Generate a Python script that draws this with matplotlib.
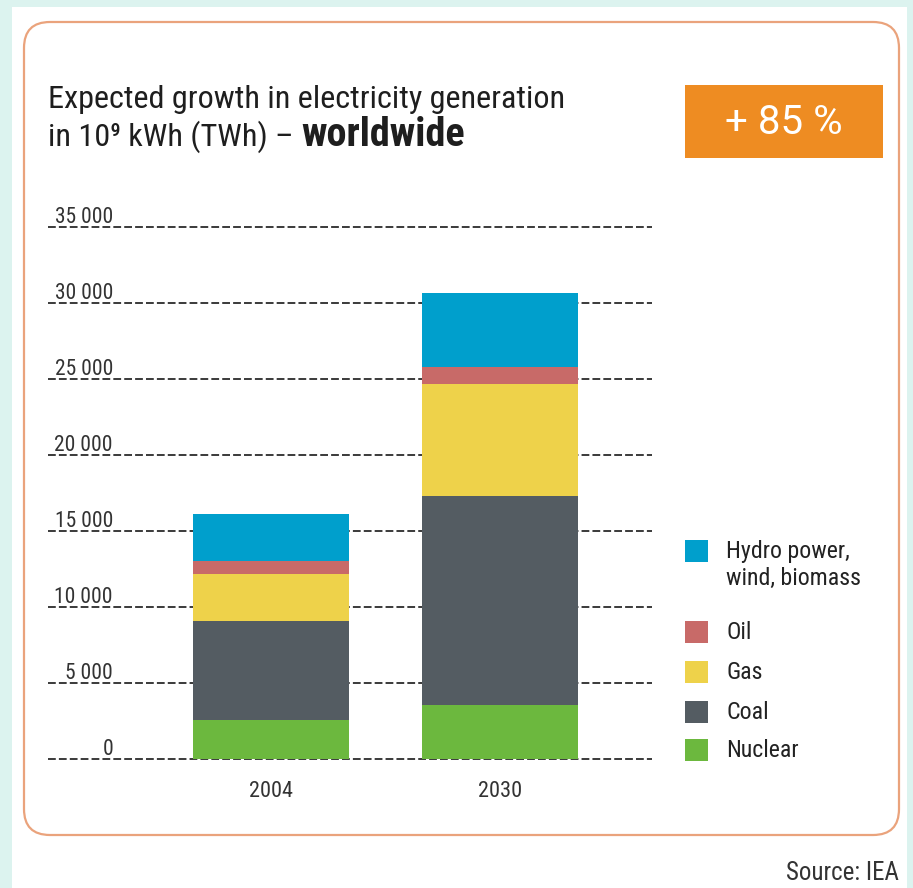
import matplotlib.pyplot as plt
import numpy as np
from matplotlib.patches import FancyBboxPatch, Rectangle
import matplotlib.transforms as mtransforms
from matplotlib import font_manager

# Data (TWh)
years = ['2004', '2030']
nuclear = [2600, 3570]
coal = [6500, 13730]
gas = [3100, 7360]
oil = [850, 1100]
hydro = [3050, 4860]

series = [nuclear, coal, gas, oil, hydro]
names = ['Nuclear', 'Coal', 'Gas', 'Oil', 'Hydro power,\nwind, biomass']
colors = ['#6cb83e', '#545c62', '#eed24a', '#c86a68', '#009fcc']
yticks = [0, 5000, 10000, 15000, 20000, 25000, 30000, 35000]
ytick_labels = ['0', '5 000', '10 000', '15 000', '20 000', '25 000', '30 000', '35 000']

# prefer a condensed face if one is installed
installed = {f.name for f in font_manager.fontManager.ttflist}
wanted = ['Roboto Condensed', 'Open Sans Condensed', 'DejaVu Sans Condensed',
          'Liberation Sans Narrow', 'Liberation Sans']
fams = [f for f in wanted if f in installed] + ['DejaVu Sans']
plt.rcParams['font.family'] = fams
condensed = fams[0] != 'Liberation Sans'
k = 1.0 if condensed else 0.88

W, H = 913, 888
fig = plt.figure(figsize=(W / 100, H / 100), dpi=100)
fig.patch.set_facecolor('#dcf3ef')

# background layer in pixel coordinates
bg = fig.add_axes([0, 0, 1, 1], zorder=0)
bg.set_xlim(0, W)
bg.set_ylim(H, 0)
bg.axis('off')
bg.add_patch(Rectangle((12, 7), 895, H, facecolor='white', edgecolor='none'))
bg.add_patch(FancyBboxPatch((24, 22), 875, 813, boxstyle='round,pad=0,rounding_size=26',
                            facecolor='white', edgecolor='#eaa37c', lw=1.6))

# title
ts = 23.2 * k
bg.text(48, 108, 'Expected growth in electricity generation', fontsize=ts,
        color='#1e1e1e', va='baseline', ha='left')
t2 = bg.text(48, 146, 'in 10\u2079 kWh (TWh) \u2013', fontsize=ts,
             color='#1e1e1e', va='baseline', ha='left')
fig.canvas.draw()
bb = t2.get_window_extent()
x_end = bg.transData.inverted().transform((bb.x1, bb.y1))[0]
bg.text(x_end + 8, 146, 'worldwide', fontsize=29 * k, fontweight='bold',
        color='#1e1e1e', va='baseline', ha='left')

# growth box
bg.add_patch(Rectangle((685, 85), 198, 73, facecolor='#ee8c22', edgecolor='none'))
bg.text(784, 122, '+ 85 %', fontsize=29, color='white', ha='center', va='center',
        family=['Roboto', 'Liberation Sans', 'DejaVu Sans'], fontweight='normal')

# legend
leg_y = [750, 712, 672, 632, 551]
for c, name, yy in zip(colors, names, leg_y):
    bg.add_patch(Rectangle((685, yy - 11), 23, 22, facecolor=c, edgecolor='none'))
    for i, ln in enumerate(name.split('\n')):
        bg.text(726, yy + 27 * i, ln, fontsize=17.2 * k, color='#222222',
                ha='left', va='center')

bg.text(899, 880, 'Source: IEA', fontsize=18 * k, color='#333333', ha='right', va='baseline')

# chart axes
px_per = 76.1 / 5000
y0_px = 759.3
ylo, yhi = -300, 35300
top_px = y0_px - yhi * px_per
bot_px = y0_px - ylo * px_per
ax = fig.add_axes([48 / W, 1 - bot_px / H, 604 / W, (bot_px - top_px) / H], zorder=1)
ax.patch.set_alpha(0)
ax.set_ylim(ylo, yhi)
ax.set_xlim(-0.974, 1.664)

x = np.arange(len(years))
bottom = np.zeros(len(years))
for vals, c in zip(series, colors):
    ax.bar(x, vals, width=0.681, bottom=bottom, color=c, zorder=3)
    bottom += np.array(vals)

for yv in yticks:
    ax.axhline(yv, color='#3a3a3a', lw=1.4, ls=(0, (4, 1.6)), zorder=1)

off = mtransforms.offset_copy(ax.get_yaxis_transform(), fig=fig, x=0, y=4, units='dots')
for yv, lab in zip(yticks, ytick_labels):
    ax.text((113 - 48) / 604, yv, lab, transform=off, ha='right', va='baseline',
            fontsize=15.5 * k, color='#333333')

ax.set_yticks([])
ax.set_xticks(x)
ax.set_xticklabels(years, fontsize=16 * k, color='#333333')
ax.tick_params(axis='x', length=0, pad=12)
for s in ax.spines.values():
    s.set_visible(False)

fig.savefig('out.png', dpi=100, facecolor=fig.get_facecolor())
